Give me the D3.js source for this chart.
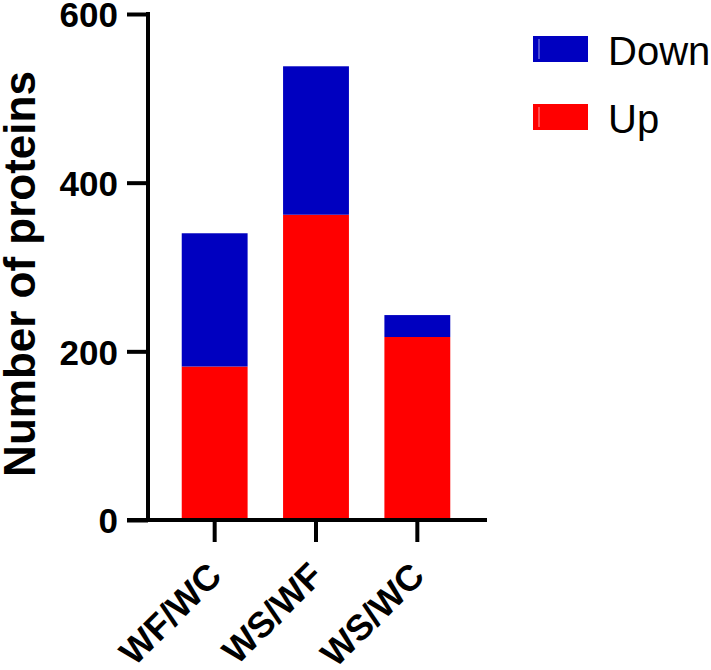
<!DOCTYPE html>
<html>
<head>
<meta charset="utf-8">
<script src="https://cdn.jsdelivr.net/npm/d3@7"></script>
<style>
  html, body { margin: 0; padding: 0; background: #fff; }
  svg { display: block; }
</style>
</head>
<body>
<div id="chart"></div>
<script>
const categories = ["WF/WC", "WS/WF", "WS/WC"];
const upValues = [182, 362, 217];
const downValues = [158, 176, 26];
const yTicks = [0, 200, 400, 600];
const seriesNames = ["Down", "Up"];
const seriesColors = ["#0000C0", "#FF0000"];

const W = 711, H = 670;
const svg = d3.select("#chart").append("svg").attr("width", W).attr("height", H);

const axisX = 148, yTop = 14, yBottom = 520, xEnd = 487;
const fontBold = "Arial, 'Liberation Sans', Helvetica, sans-serif";

const y = d3.scaleLinear().domain([0, 600]).range([yBottom, yTop]);
const x = d3.scaleBand().domain(categories).range([164, 468]).paddingInner(0.35).paddingOuter(0.175);

const data = categories.map((c, i) => ({ cat: c, Up: upValues[i], Down: downValues[i] }));
const stack = d3.stack().keys(["Up", "Down"]);
const stacked = stack(data);
const color = d3.scaleOrdinal().domain(seriesNames).range(seriesColors);

// bars
svg.append("g").selectAll("g").data(stacked).join("g")
  .attr("fill", d => color(d.key))
  .selectAll("rect").data(d => d).join("rect")
  .attr("x", d => x(d.data.cat))
  .attr("width", x.bandwidth())
  .attr("y", d => y(d[1]))
  .attr("height", d => y(d[0]) - y(d[1]));

// y axis
const gy = svg.append("g").attr("transform", `translate(${axisX},0)`)
  .call(d3.axisLeft(y).tickValues(yTicks).tickFormat(d3.format("d")).tickSize(21).tickSizeOuter(0).tickPadding(9));
gy.select(".domain").attr("stroke", "#000").attr("stroke-width", 4).attr("d", `M0,${yTop - 2}V${yBottom}`);
gy.selectAll(".tick line").attr("stroke", "#000").attr("stroke-width", 4);
gy.selectAll(".tick text").attr("fill", "#000").style("font-family", fontBold)
  .style("font-weight", "bold").style("font-size", "35px").attr("dy", "0.37em");

// x axis
const gx = svg.append("g").attr("transform", `translate(0,${yBottom})`)
  .call(d3.axisBottom(x).tickSize(22).tickSizeOuter(0));
gx.select(".domain").remove();
gx.append("line").attr("x1", axisX - 21).attr("x2", xEnd).attr("y1", 0).attr("y2", 0)
  .attr("stroke", "#000").attr("stroke-width", 4);
gx.selectAll(".tick line").attr("stroke", "#000").attr("stroke-width", 4);
gx.selectAll(".tick text").attr("fill", "#000").style("font-family", fontBold)
  .style("font-weight", "bold").style("font-size", "36px")
  .attr("text-anchor", "end").attr("dy", null).attr("y", 0)
  .attr("transform", "translate(9,58) rotate(-45)");

// y title
svg.append("text")
  .attr("transform", `translate(35,274) rotate(-90)`)
  .attr("text-anchor", "middle")
  .style("font-family", fontBold).style("font-weight", "bold").style("font-size", "44px")
  .text("Number of proteins");

// legend
const legend = svg.append("g").attr("transform", "translate(533,36)");
const li = legend.selectAll("g").data(seriesNames).join("g")
  .attr("transform", (d, i) => `translate(0,${i * 68})`);
li.append("rect").attr("width", 55).attr("height", 26).attr("fill", d => color(d));
li.append("line").attr("x1", 6).attr("x2", 6).attr("y1", 3).attr("y2", 23)
  .attr("stroke", "#fff").attr("stroke-opacity", 0.6).attr("stroke-width", 1);
li.append("text").attr("x", 75).attr("y", 29)
  .style("font-family", "Arial, 'Liberation Sans', Helvetica, sans-serif").style("font-size", "40px")
  .attr("fill", "#000").text(d => d);
</script>
</body>
</html>
